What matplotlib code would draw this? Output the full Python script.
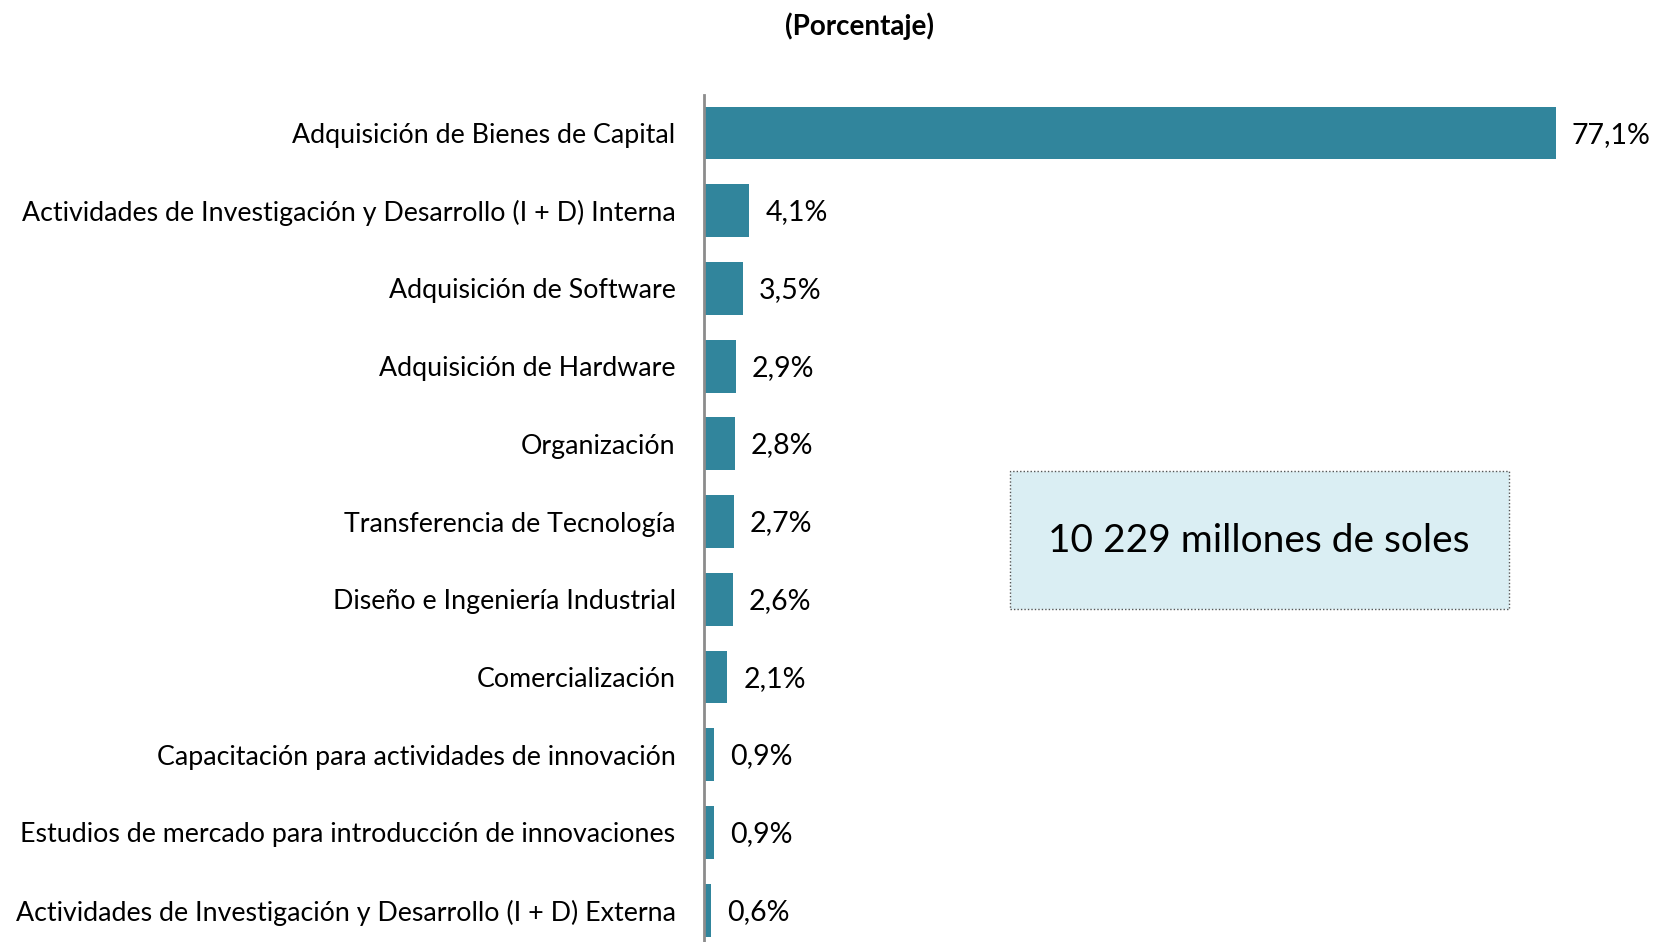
import matplotlib.pyplot as plt
import matplotlib.patches as mpatches

plt.rcParams['font.family'] = ['Lato', 'DejaVu Sans']

categorias = [
    "Adquisición de Bienes de Capital",
    "Actividades de Investigación y Desarrollo (I + D) Interna",
    "Adquisición de Software",
    "Adquisición de Hardware",
    "Organización",
    "Transferencia de Tecnología",
    "Diseño e Ingeniería Industrial",
    "Comercialización",
    "Capacitación para actividades de innovación",
    "Estudios de mercado para introducción de innovaciones",
    "Actividades de Investigación y Desarrollo (I + D) Externa",
]
porcentajes = [77.1, 4.1, 3.5, 2.9, 2.8, 2.7, 2.6, 2.1, 0.9, 0.9, 0.6]
total_texto = "10 229 millones de soles"

W, H = 1655, 942
fig = plt.figure(figsize=(W / 100, H / 100), dpi=100)
ax = fig.add_axes([704 / W, 0, 1 - 704 / W, (942 - 95) / H])

y = list(range(len(categorias)))
ax.barh(y, porcentajes, height=0.68, color='#31859C')
ax.set_ylim(10.41, -0.49)
ax.set_xlim(0, 86.1)

for yi, v in zip(y, porcentajes):
    ax.text(v + 1.45, yi + 0.02, f"{v:.1f}%".replace('.', ','), va='center', ha='left',
            fontsize=20.5, color='black')

ax.set_yticks(y)
ax.set_yticklabels(categorias, fontsize=19.3)
ax.tick_params(axis='y', length=0, pad=20.5)
ax.set_xticks([])
for s in ['top', 'right', 'bottom']:
    ax.spines[s].set_visible(False)
ax.spines['left'].set_color('#8C8C8C')
ax.spines['left'].set_linewidth(2)

fig.text(860 / W, 1 - 26 / H, "(Porcentaje)", ha='center', va='center',
         fontsize=20, fontweight='bold')

box = mpatches.Rectangle((1010 / W, 1 - 609 / H), 499 / W, 138 / H,
                         transform=fig.transFigure, facecolor='#DAEEF3',
                         edgecolor='#555555', linestyle=(0, (1, 1.5)), linewidth=1)
fig.patches.append(box)
fig.text(1259 / W, 1 - 541 / H, total_texto, ha='center', va='center', fontsize=28)

fig.savefig('out.png', dpi=100)
